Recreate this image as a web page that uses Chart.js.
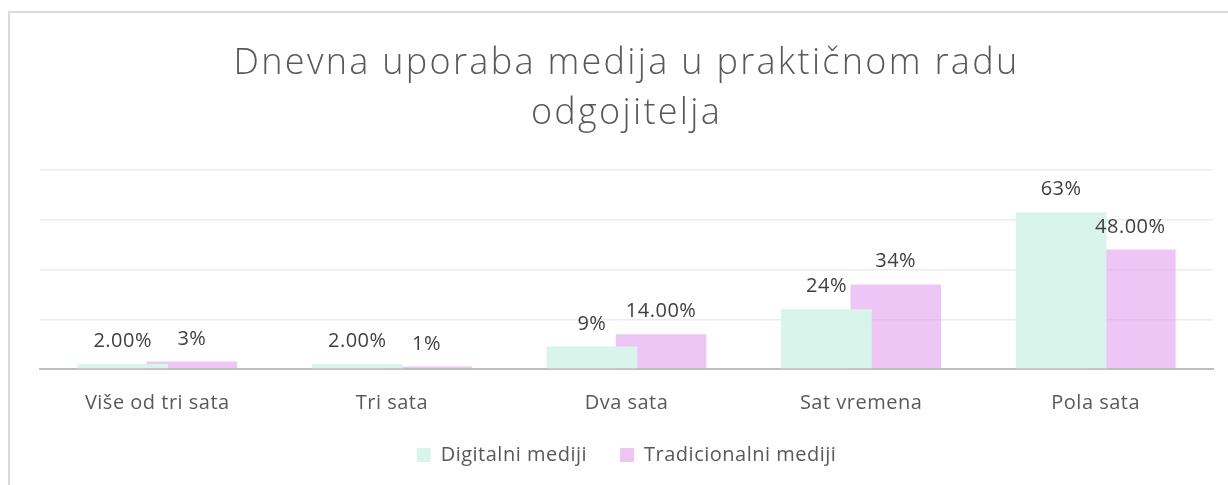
<!DOCTYPE html>
<html>
<head>
<meta charset="utf-8">
<script src="https://cdn.jsdelivr.net/npm/chart.js@4.4.0/dist/chart.umd.min.js"></script>
<style>
    html, body { margin: 0; padding: 0; background: #fff; overflow: hidden; }
    body { width: 1228px; height: 485px; position: relative; }
    #box {
        position: absolute; left: 8px; top: 11px;
        width: 1240px; height: 490px;
        border: 2px solid #d9d9d9; box-sizing: border-box;
    }
    #wrap { position: absolute; left: 1px; top: 0; width: 1232px; height: 472px; }
</style>
</head>
<body>
<div id="box"><div id="wrap"><canvas id="chart"></canvas></div></div>
<script>
const categories = ['Više od tri sata', 'Tri sata', 'Dva sata', 'Sat vremena', 'Pola sata'];
const digitalValues = [2, 2, 9, 24, 63];
const traditionalValues = [3, 1, 14, 34, 48];
const digitalLabels = ['2.00%', '2.00%', '9%', '24%', '63%'];
const traditionalLabels = ['3%', '1%', '14.00%', '34%', '48.00%'];
const titleLines = ['Dnevna uporaba medija u praktičnom radu', 'odgojitelja'];

const textColor = '#595959';
const fontFamily = "'Open Sans', 'Noto Sans', sans-serif";

// a bit of letter spacing on all text, like the original
const spacing = {
    id: 'spacing',
    beforeLayout(chart) { chart.ctx.letterSpacing = '0.5px'; },
    beforeDraw(chart) { chart.ctx.letterSpacing = '0.5px'; }
};

// two line title, drawn by hand so it can be spaced out
const bigTitle = {
    id: 'bigTitle',
    afterDraw(chart) {
        const ctx = chart.ctx;
        const area = chart.chartArea;
        ctx.save();
        ctx.letterSpacing = '2.3px';
        ctx.font = `300 36px ${fontFamily}`;
        ctx.fillStyle = textColor;
        ctx.textAlign = 'center';
        ctx.textBaseline = 'alphabetic';
        const cx = (area.left + area.right) / 2;
        ctx.fillText(titleLines[0], cx, 61);
        ctx.fillText(titleLines[1], cx, 111);
        ctx.restore();
    }
};

// draws the value text above each bar
const valueLabels = {
    id: 'valueLabels',
    afterDatasetsDraw(chart) {
        const ctx = chart.ctx;
        ctx.save();
        ctx.font = `20px ${fontFamily}`;
        ctx.fillStyle = '#404040';
        ctx.textAlign = 'center';
        ctx.textBaseline = 'alphabetic';
        chart.data.datasets.forEach((ds, di) => {
            const meta = chart.getDatasetMeta(di);
            meta.data.forEach((bar, i) => {
                ctx.fillText(ds.valueText[i], bar.x, bar.y - 17);
            });
        });
        ctx.restore();
    }
};

const data = {
    labels: categories,
    datasets: [{
            label: 'Digitalni mediji',
            data: digitalValues,
            valueText: digitalLabels,
            backgroundColor: 'rgb(216, 244, 235)'
        }, {
            label: 'Tradicionalni mediji',
            data: traditionalValues,
            valueText: traditionalLabels,
            backgroundColor: 'rgba(226, 160, 238, 0.6)'
        }]
};

const config = {
    type: 'bar',
    data: data,
    options: {
        responsive: true,
        maintainAspectRatio: false,
        animation: false,
        categoryPercentage: 0.59,
        barPercentage: 1.31,
        layout: {
            padding: { left: 29, right: 30, top: 157, bottom: 10 }
        },
        scales: {
            x: {
                grid: { display: false },
                border: { color: '#bfbfbf', width: 2 },
                ticks: {
                    color: textColor,
                    font: { family: fontFamily, size: 20 },
                    padding: 14
                },
                afterFit(scale) { scale.height = 43; }
            },
            y: {
                min: 0,
                max: 80,
                ticks: { display: false, stepSize: 20 },
                border: { display: false },
                grid: { color: '#ececec', lineWidth: 1.5, drawTicks: false }
            }
        },
        plugins: {
            title: { display: false },
            legend: {
                position: 'bottom',
                labels: {
                    color: textColor,
                    font: { family: fontFamily, size: 20 },
                    boxWidth: 14,
                    boxHeight: 14,
                    padding: 33
                }
            },
            tooltip: { enabled: false }
        }
    },
    plugins: [spacing, valueLabels, bigTitle]
};

let ctx = document.getElementById('chart').getContext('2d');
new Chart(ctx, config);
</script>
</body>
</html>
